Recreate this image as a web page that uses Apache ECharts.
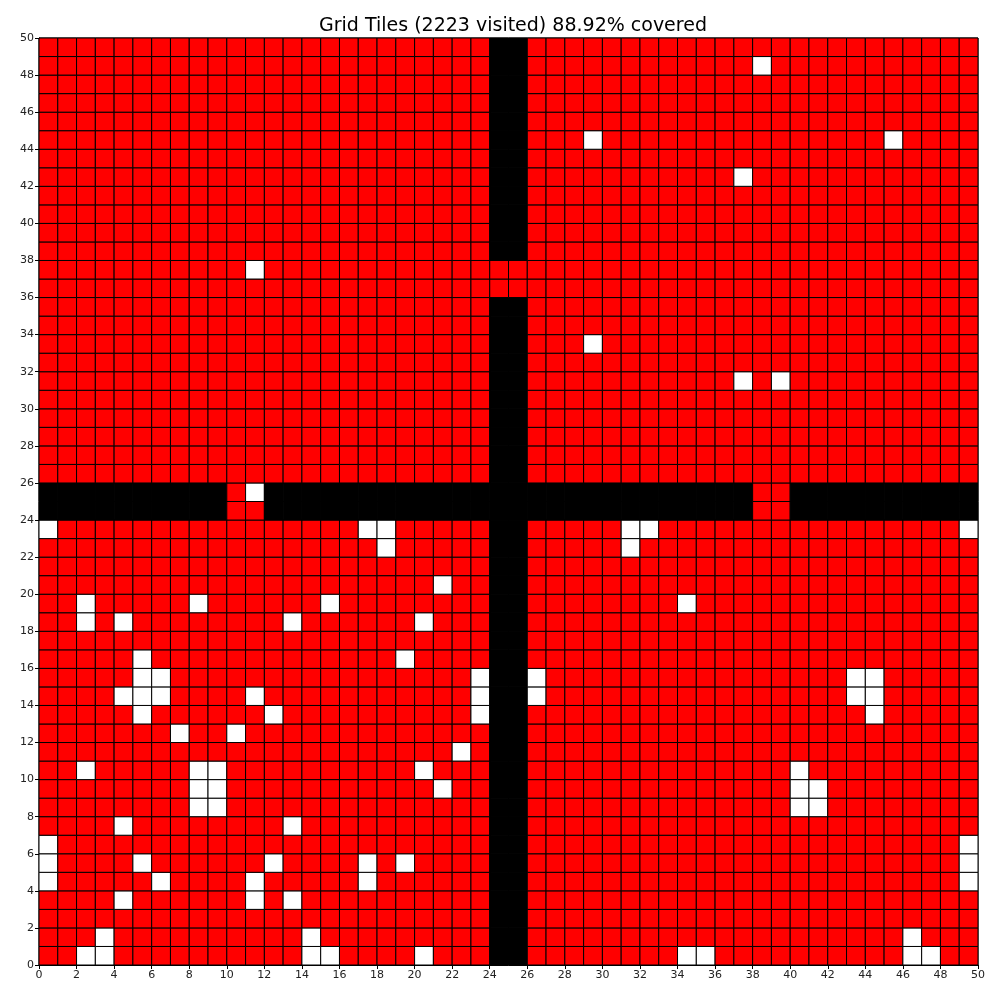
<!DOCTYPE html>
<html>
<head>
<meta charset="utf-8">
<script src="https://cdn.jsdelivr.net/npm/echarts@6/dist/echarts.min.js"></script>
<style>html,body{margin:0;padding:0;background:#fff;}#c{width:1000px;height:1000px;}</style>
</head>
<body>
<div id="c"></div>
<script>
const gridSize = 50;
const titleText = 'Grid Tiles (2223 visited) 88.92% covered';
const tickLabels = [0,2,4,6,8,10,12,14,16,18,20,22,24,26,28,30,32,34,36,38,40,42,44,46,48,50];
// obstacle (black) tiles: vertical wall columns and horizontal wall rows with gaps
const wallColumns = [24, 25];
const wallColumnGapRows = [36, 37];
const wallRows = [24, 25];
const wallRowGapCols = [10, 11, 38, 39];
// unvisited (white) tiles [x, y]
const unvisited = [
  [38,48],[29,44],[45,44],[37,42],[11,37],[29,33],[37,31],[39,31],
  [11,25],
  [0,23],[17,23],[18,23],[31,23],[32,23],[49,23],
  [18,22],[31,22],
  [21,20],
  [2,19],[8,19],[15,19],[34,19],
  [2,18],[4,18],[13,18],[20,18],
  [5,16],[19,16],
  [5,15],[6,15],[23,15],[26,15],[43,15],[44,15],
  [4,14],[5,14],[6,14],[11,14],[23,14],[26,14],[43,14],[44,14],
  [5,13],[12,13],[23,13],[44,13],
  [7,12],[10,12],
  [22,11],
  [2,10],[8,10],[9,10],[20,10],[40,10],
  [8,9],[9,9],[21,9],[40,9],[41,9],
  [8,8],[9,8],[40,8],[41,8],
  [4,7],[13,7],
  [0,6],[49,6],
  [0,5],[5,5],[12,5],[17,5],[19,5],[49,5],
  [0,4],[6,4],[11,4],[17,4],[49,4],
  [4,3],[11,3],[13,3],
  [3,1],[14,1],[46,1],
  [2,0],[3,0],[14,0],[15,0],[20,0],[34,0],[35,0],[46,0],[47,0]
];
const stateColors = ['#ffffff', '#ff0000', '#000000']; // 0 unvisited, 1 visited, 2 obstacle

const whiteSet = new Set(unvisited.map(p => p[0] + ',' + p[1]));
function isWall(x, y) {
  if (wallColumns.includes(x) && !wallColumnGapRows.includes(y)) return true;
  if (wallRows.includes(y) && !wallRowGapCols.includes(x)) return true;
  return false;
}
const cells = [];
for (let y = 0; y < gridSize; y++) {
  for (let x = 0; x < gridSize; x++) {
    let s = 1;
    if (isWall(x, y)) s = 2;
    else if (whiteSet.has(x + ',' + y)) s = 0;
    cells.push([x, y, s]);
  }
}

const chart = echarts.init(document.getElementById('c'), null, {renderer: 'canvas'});
const font = 'DejaVu Sans';
const axisCommon = {
  type: 'value', min: 0, max: 50, interval: 2,
  axisLine: {show: true, lineStyle: {color: '#000', width: 1}},
  axisTick: {show: true, inside: false, length: 4, lineStyle: {color: '#000', width: 1}},
  axisLabel: {show: true, fontSize: 11, fontFamily: font, color: '#222', margin: 5},
  splitLine: {show: false}
};
chart.setOption({
  animation: false,
  backgroundColor: '#fff',
  title: {
    text: titleText, left: 508, top: 12, textAlign: 'center',
    textStyle: {fontSize: 19, fontWeight: 'normal', fontFamily: font, color: '#000'}
  },
  grid: {left: 39, right: 22, top: 38, bottom: 35, show: true, borderColor: '#000', borderWidth: 1, backgroundColor: 'transparent'},
  xAxis: Object.assign({}, axisCommon, {axisLabel: Object.assign({}, axisCommon.axisLabel, {formatter: v => tickLabels.includes(v) ? String(v) : ''})}),
  yAxis: Object.assign({}, axisCommon, {axisLabel: Object.assign({}, axisCommon.axisLabel, {formatter: v => tickLabels.includes(v) ? String(v) : ''})}),
  series: [{
    type: 'custom',
    coordinateSystem: 'cartesian2d',
    data: cells,
    encode: {x: 0, y: 1},
    renderItem: function (params, api) {
      const x = api.value(0), y = api.value(1), s = api.value(2);
      const p0 = api.coord([x, y + 1]);
      const p1 = api.coord([x + 1, y]);
      return {
        type: 'rect',
        shape: {x: p0[0], y: p0[1], width: p1[0] - p0[0], height: p1[1] - p0[1]},
        style: {fill: stateColors[s], stroke: '#000', lineWidth: 1}
      };
    }
  }]
});
</script>
</body>
</html>
